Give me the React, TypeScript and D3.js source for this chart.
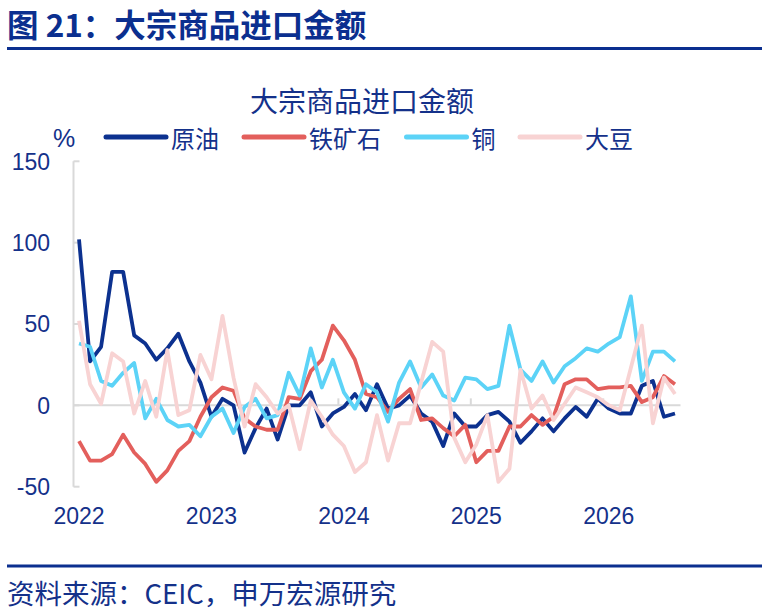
import React from 'react';
import * as d3 from 'd3';

// year labels on the category axis (one label every 12 months)
const years = ['2022', '2023', '2024', '2025', '2026'];
const yTicks = [-50, 0, 50, 100, 150];

// monthly yoy, %, Jan 2022 - Jul 2026
const crudeOil = [
  102, 27, 36, 82, 82, 43, 38, 28, 35, 44,
  27, 14, -7, 4, 0, -29, -14, -2, -21, 0,
  0, 8, -13, -5, -1, 7, -3, 13, -2, 0,
  6, -5, -10, -25, -5, -13, -13, -6, -4, -10,
  -23, -16, -8, -16, -8, -1, -7, 4, -2, -5,
  -5, 12, 15, -7, -5,
];
const ironOre = [
  -22, -34, -34, -30, -18, -29, -36, -47, -40, -28,
  -22, -7, 5, 11, 9, -8, -13, -15, -15, 5,
  4, 21, 28, 49, 40, 28, 7, 5, -4, 4,
  10, -9, -8, -14, -19, -12, -35, -28, -28, -13,
  -13, -6, -12, -7, 13, 16, 16, 10, 11, 11,
  12, 2, 5, 18, 13,
];
const copper = [
  38, 36, 15, 12, 20, 26, -8, 4, -9, -13,
  -12, -19, -7, -2, -17, -1, 4, -8, -6, 20,
  6, 35, 11, 28, 8, -2, 13, 8, -10, 14,
  27, 11, 19, 6, 3, 17, 16, 10, 12, 49,
  22, 15, 27, 14, 24, 29, 35, 33, 38, 42,
  67, 15, 33, 33, 27,
];
const soybean = [
  52, 13, 1, 32, 27, -5, 15, -7, 34, -6,
  -3, 31, 16, 55, 17, -13, 13, 5, -5, 0,
  -27, 3, -7, -18, -25, -41, -35, -6, -34, -11,
  -11, 14, 39, 33, -20, -35, -24, -6, -47, -39,
  22, -2, 6, -9, 1, 11, 8, 5, 0, -3,
  23, 49, -11, 17, 7,
];

const seriesNames = ['原油', '铁矿石', '铜', '大豆'];
const seriesColors = ['#0c318f', '#e35f5c', '#5cd3f7', '#f8d3d3'];
const seriesValues = [crudeOil, ironOre, copper, soybean];

const CJK = '"Noto Sans CJK SC", sans-serif';
const LATIN = '"Liberation Sans", Arial, sans-serif';
const TEXT = '#14318a';
const NAVY = '#0b2f8f';
const GRID = '#d9d9d9';

const W = 762;
const H = 615;

const App: React.FC = () => {
  const months = d3.range(crudeOil.length);

  const x = d3.scalePoint<number>().domain(months).range([73.5, 680.5]).padding(0.5);
  const step = x.step();
  const y = d3.scaleLinear().domain([-50, 150]).range([486.7, 161.3]);

  const line = d3
    .line<number>()
    .x((_, i) => x(i) as number)
    .y((d) => y(d));

  const x0 = 73.5;
  const x1 = 680.5;

  // legend layout: line + gap + text, items flow left to right
  const legendFont = 24.5;
  let cursor = 106;
  const legendItems = seriesNames.map((name, i) => {
    const item = { name, color: seriesColors[i], x: cursor };
    cursor += 60 + 5 + name.length * legendFont + 24;
    return item;
  });

  return (
    <svg
      width={W}
      height={H}
      style={{ position: 'absolute', left: 0, top: 0, background: '#fff' }}
    >
      {/* header */}
      <text x={7} y={37} fontFamily={CJK} fontSize={31.5} fontWeight="bold" fill={NAVY}>
        图 21：大宗商品进口金额
      </text>
      <line x1={7} x2={W} y1={48.5} y2={48.5} stroke={NAVY} strokeWidth={3} />

      {/* chart title */}
      <text x={362} y={112} textAnchor="middle" fontFamily={CJK} fontSize={28} fill={TEXT}>
        大宗商品进口金额
      </text>

      {/* unit + legend */}
      <text x={64} y={147} textAnchor="middle" fontFamily={LATIN} fontSize={25} fill={TEXT}>
        %
      </text>
      {legendItems.map((d) => (
        <g key={d.name}>
          <line x1={d.x} x2={d.x + 60} y1={137} y2={137} stroke={d.color} strokeWidth={5} strokeLinecap="round" />
          <text x={d.x + 65} y={148} fontFamily={CJK} fontSize={24} fill={TEXT}>
            {d.name}
          </text>
        </g>
      ))}

      {/* y axis */}
      <line x1={x0} x2={x0} y1={y(150)} y2={y(-50)} stroke={GRID} strokeWidth={2} />
      {yTicks.map((t) => (
        <g key={t}>
          <line x1={x0} x2={x0 + 6} y1={y(t)} y2={y(t)} stroke={GRID} strokeWidth={2} />
          <text
            x={50}
            y={y(t)}
            dy="0.36em"
            textAnchor="end"
            fontFamily={LATIN}
            fontSize={23}
            fill={TEXT}
          >
            {t}
          </text>
        </g>
      ))}

      {/* x axis at zero */}
      <line x1={x0} x2={x1} y1={y(0)} y2={y(0)} stroke={GRID} strokeWidth={2} />
      {years.map((yr, k) => {
        const cx = x(k * 12) as number;
        return (
          <g key={yr}>
            {k > 0 && (
              <line
                x1={cx - step / 2}
                x2={cx - step / 2}
                y1={y(0)}
                y2={y(0) - 7}
                stroke={GRID}
                strokeWidth={2}
              />
            )}
            <text x={cx} y={524} textAnchor="middle" fontFamily={LATIN} fontSize={23} fill={TEXT}>
              {yr}
            </text>
          </g>
        );
      })}

      {/* series */}
      {seriesValues.map((vals, i) => (
        <path
          key={seriesNames[i]}
          d={line(vals) || ''}
          fill="none"
          stroke={seriesColors[i]}
          strokeWidth={3.8}
          strokeLinejoin="round"
        />
      ))}

      {/* footer */}
      <line x1={7} x2={W} y1={566} y2={566} stroke={NAVY} strokeWidth={3} />
      <text x={7} y={604} fontFamily={CJK} fontSize={27.5} fill={TEXT}>
        资料来源：CEIC，申万宏源研究
      </text>
    </svg>
  );
};

export default App;
